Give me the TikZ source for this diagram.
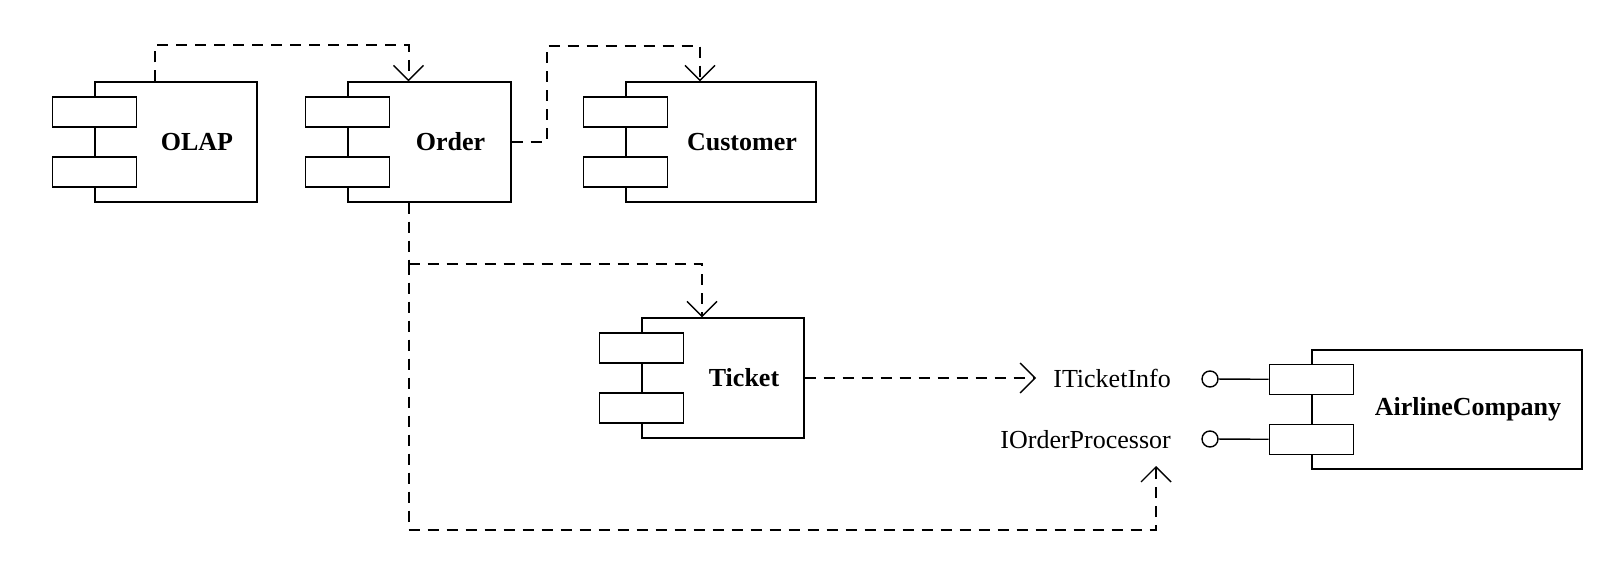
\documentclass[tikz,border=0pt]{standalone}
\usepackage{fontspec}
\setmainfont{Liberation Serif}
\usetikzlibrary{arrows.meta}

\begin{document}
\begin{tikzpicture}[x=1pt,y=-1pt,
	comp/.style={draw, line width=1.4pt, minimum height=120pt, inner sep=0pt},
	slot/.style={draw, fill=white, line width=1.4pt, minimum width=84pt, minimum height=30pt, inner sep=0pt},
	cname/.style={font=\fontsize{26}{30}\selectfont\bfseries},
	iface/.style={font=\fontsize{26}{30}\selectfont, inner sep=0pt},
	dashline/.style={line width=2pt, dash pattern=on 11pt off 8pt},
	dep/.style={dashline, -{Straight Barb[length=15pt,width=30pt,line width=1.4pt]}},
	ball/.style={draw, circle, line width=1.4pt, minimum size=16pt, inner sep=0pt}]

	\useasboundingbox (0,0) rectangle (1612,588);

	\node[comp, minimum width=162pt] (olap) at (176,142) {};
	\node[comp, minimum width=163pt] (order) at (429.5,142) {};
	\node[comp, minimum width=190pt] (customer) at (721,142) {};
	\node[comp, minimum width=162pt] (ticket) at (723,378) {};
	\node[comp, minimum width=270pt, minimum height=119pt] (airline) at (1447,409.5) {};

	\foreach \c in {olap, order, customer, ticket, airline}{
		\node[slot] (\c-p1) at ([yshift=30pt]\c.west) {};
		\node[slot] (\c-p2) at ([yshift=-30pt]\c.west) {};
	}

	\node[cname] (olap-t) at ([xshift=21pt]olap.center) {OLAP};
	\node[cname] (order-t) at ([xshift=21pt]order.center) {Order};
	\node[cname] (customer-t) at ([xshift=21pt]customer.center) {Customer};
	\node[cname] (ticket-t) at ([xshift=21pt]ticket.center) {Ticket};
	\node[cname] (airline-t) at ([xshift=21pt]airline.center) {AirlineCompany};

	\node[iface, anchor=east] (iti) at (1171,378) {ITicketInfo};
	\node[iface, anchor=east] (iop) at (1171,440) {IOrderProcessor};
	\coordinate (iopin) at (1156,466);

	\node[ball] (b1) at (1210,379) {};
	\node[ball] (b2) at (1210,439) {};
	\draw[line width=1.4pt] (b1) -- (airline-p1);
	\draw[line width=1.4pt] (b2) -- (airline-p2);

	\draw[dep] ([xshift=-21pt]olap.north) -- ++(0,-36) -| ([xshift=-21pt]order.north);
	\draw[dep] (order.east) -- ++(35,0) -- ++(0,-96) -| ([xshift=-21pt]customer.north);

	\coordinate (split) at ([xshift=-21pt,yshift=-61pt]order.south);
	\draw[dashline] ([xshift=-21pt]order.south) -- (split);
	\draw[dep] (split) -| ([xshift=-21pt]ticket.north);
	\draw[dep] (split) -- ++(0,266) -| (iopin);
	\draw[dep] (ticket.east) -- ([xshift=-17pt]iti.west);

\end{tikzpicture}
\end{document}
